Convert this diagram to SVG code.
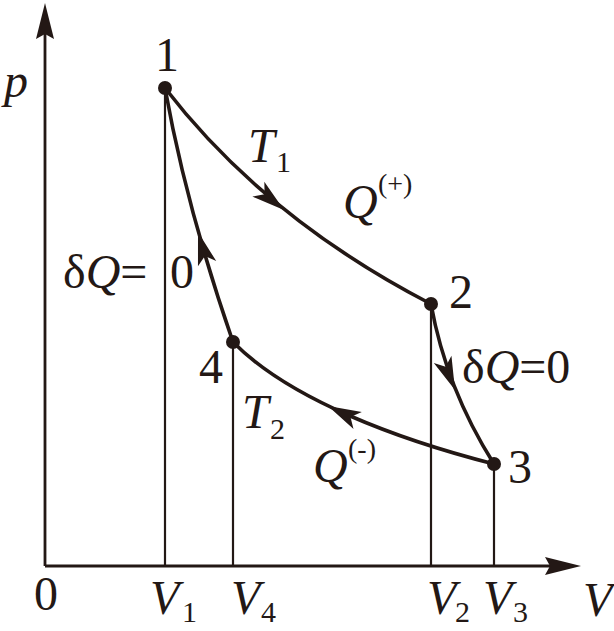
<svg xmlns="http://www.w3.org/2000/svg" width="614" height="631" viewBox="0 0 614 631">
<style>
.ax{stroke:#231815;stroke-width:2.8;fill:none}
.vl{stroke:#231815;stroke-width:2.2;fill:none}
.cv{stroke:#231815;stroke-width:3.6;fill:none}
.ah{fill:#231815;stroke:none}
.pt{fill:#231815}
text{font-family:"Liberation Serif","Times New Roman",serif;fill:#231815;font-size:48px}
.it{font-style:italic}
.sub{font-size:30px;font-style:normal}
.sup{font-size:28px;font-style:normal}
</style>
<defs>
<polygon id="arr" points="0,0 -33,-9.5 -25,0 -33,9.5"/>
<polygon id="axarr" points="0,0 -36,-9 -31,0 -36,9"/>
</defs>
<g id="axes">
<line class="ax" x1="45" y1="566" x2="45" y2="20"/>
<line class="ax" x1="45" y1="566" x2="560" y2="566"/>
<use href="#axarr" class="ah" transform="translate(45,3) rotate(-90)"/>
<use href="#axarr" class="ah" transform="translate(581,566)"/>
<text x="4" y="97" class="it">p</text>
<text x="583" y="616" class="it">V</text>
<text x="46" y="610" text-anchor="middle">0</text>
<text x="150" y="614"><tspan class="it">V</tspan><tspan class="sub" x="182" y="622">1</tspan></text>
<text x="231" y="614"><tspan class="it">V</tspan><tspan class="sub" x="261" y="622">4</tspan></text>
<text x="427" y="614"><tspan class="it">V</tspan><tspan class="sub" x="455" y="622">2</tspan></text>
<text x="483" y="614"><tspan class="it">V</tspan><tspan class="sub" x="513" y="622">3</tspan></text>
</g>
<g id="connectors">
<line class="vl" x1="165" y1="88" x2="165" y2="566"/>
<line class="vl" x1="233" y1="342" x2="233" y2="566"/>
<line class="vl" x1="431" y1="304" x2="431" y2="566"/>
<line class="vl" x1="494" y1="464" x2="494" y2="566"/>
<path id="e12" class="cv" d="M165,88 Q265,218 431,304"/>
<use href="#arr" class="ah" transform="translate(284,210) rotate(39)"/>
<path id="e23" class="cv" d="M431,304 Q446,388 494,464"/>
<use href="#arr" class="ah" transform="translate(455,390) rotate(68)"/>
<path id="e34" class="cv" d="M494,464 C400,440 290,400 233,342"/>
<use href="#arr" class="ah" transform="translate(328,406) rotate(206)"/>
<path id="e41" class="cv" d="M233,342 C215,290 185,200 165,88"/>
<use href="#arr" class="ah" transform="translate(198,232) rotate(-106)"/>
</g>
<g id="node1"><circle class="pt" cx="165" cy="88" r="7"/><text x="167" y="71" text-anchor="middle">1</text></g>
<g id="node2"><circle class="pt" cx="431" cy="304" r="7"/><text x="449" y="308">2</text></g>
<g id="node3"><circle class="pt" cx="494" cy="464" r="7"/><text x="508" y="483">3</text></g>
<g id="node4"><circle class="pt" cx="233" cy="342" r="7"/><text x="199" y="383">4</text></g>
<g id="labels">
<text x="248" y="162"><tspan class="it">T</tspan><tspan class="sub" x="276" y="172">1</tspan></text>
<text x="343" y="218"><tspan class="it">Q</tspan><tspan class="sup" x="378" y="193">(+)</tspan></text>
<text x="242" y="428"><tspan class="it">T</tspan><tspan class="sub" x="270" y="439">2</tspan></text>
<text x="313" y="482"><tspan class="it">Q</tspan><tspan class="sup" x="348" y="458">(-)</tspan></text>
<text x="462" y="383">δ<tspan class="it">Q</tspan>=0</text>
<text x="63" y="288">δ<tspan class="it">Q</tspan>=</text>
<text x="170" y="288">0</text>
</g>
</svg>
